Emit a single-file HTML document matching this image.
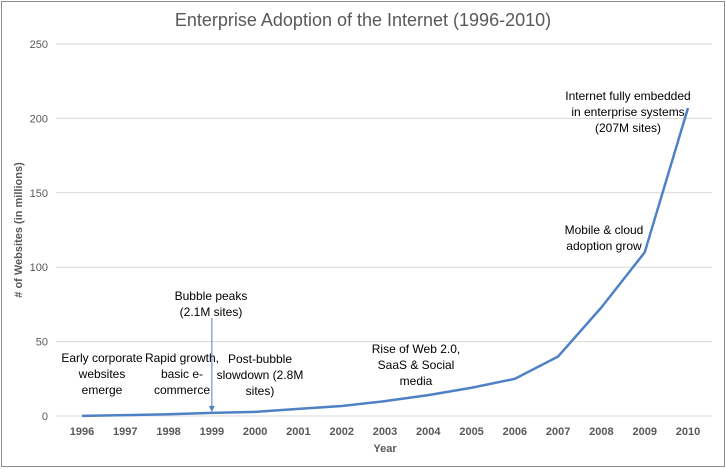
<!DOCTYPE html>
<html><head><meta charset="utf-8"><style>
body{margin:0;background:#fff}
svg{display:block;font-family:"Liberation Sans",sans-serif}
</style></head><body>
<svg id="chart" width="726" height="469">
<rect x="1.5" y="1.5" width="723" height="465" fill="#fff" stroke="#8c8c8c"/>
<text x="363" y="26" text-anchor="middle" font-size="18" fill="#595959">Enterprise Adoption of the Internet (1996-2010)</text>
<g id="grid"></g><g id="yticks"></g><g id="xticks"></g><g id="series"></g><g id="notes"></g>
<text transform="translate(22,230) rotate(-90)" text-anchor="middle" font-size="11" font-weight="bold" fill="#595959"># of Websites (in millions)</text>
<text x="385" y="452" text-anchor="middle" font-size="11" font-weight="bold" fill="#595959">Year</text>
</svg>
<script>
const years=[1996,1997,1998,1999,2000,2001,2002,2003,2004,2005,2006,2007,2008,2009,2010];
const sites=[0.1,0.6,1.2,2.1,2.8,4.8,6.7,10,14,19,25,40,73,110,207];
const yTicks=[0,50,100,150,200,250];
const notes=[
 {cx:102,ty:362,lines:["Early corporate","websites","emerge"]},
 {cx:182,ty:362,lines:["Rapid growth,","basic e-","commerce"]},
 {cx:260,ty:363,lines:["Post-bubble","slowdown (2.8M","sites)"]},
 {cx:211,ty:300,lines:["Bubble peaks","(2.1M sites)"]},
 {cx:416,ty:353,lines:["Rise of Web 2.0,","SaaS & Social","media"]},
 {cx:604,ty:234,lines:["Mobile & cloud","adoption grow"]},
 {cx:628,ty:100,lines:["Internet fully embedded","in enterprise systems","(207M sites)"]}
];
const NS="http://www.w3.org/2000/svg";
const x=i=>82+i*(688-82)/(years.length-1);
const y=v=>416-v*(416-44)/250;
function mk(t,a,p){const e=document.createElementNS(NS,t);for(const k in a)e.setAttribute(k,a[k]);p.appendChild(e);return e;}
const g=document.getElementById('grid'),yt=document.getElementById('yticks'),xt=document.getElementById('xticks'),s=document.getElementById('series'),n=document.getElementById('notes');
yTicks.forEach(v=>{
 const l=mk('line',{x1:56,x2:712,y1:y(v),y2:y(v),stroke:'#d9d9d9','stroke-width':1},g);
 
 
 const t=mk('text',{x:48,y:y(v)+4,'text-anchor':'end','font-size':11,fill:'#595959'},yt);
 t.textContent=v;
 
 
});
years.forEach((yr,i)=>{
 const t=mk('text',{x:x(i),y:435,'text-anchor':'middle','font-size':11,'font-weight':'bold',fill:'#595959'},xt);
 t.textContent=yr;
 
 
});
const p=mk('polyline',{points:sites.map((v,i)=>x(i)+','+y(v)).join(' '),fill:'none',stroke:'#4f81c7','stroke-width':2.5,'stroke-linejoin':'round'},s);


notes.forEach(o=>{
 const t=mk('text',{'text-anchor':'middle','font-size':12,fill:'#000'},n);
 
 
 o.lines.forEach((ln,k)=>{const ts=mk('tspan',{x:o.cx,y:o.ty+k*16},t);ts.textContent=ln;});
});
const ar=mk('line',{x1:x(3),x2:x(3),y1:318,y2:y(sites[3])-6,stroke:'#4f81c7','stroke-width':1},n);


const ah=mk('polygon',{points:`${x(3)-3},${y(sites[3])-7} ${x(3)+3},${y(sites[3])-7} ${x(3)},${y(sites[3])-1}`,fill:'#4f81c7'},n);


</script>
</body></html>
